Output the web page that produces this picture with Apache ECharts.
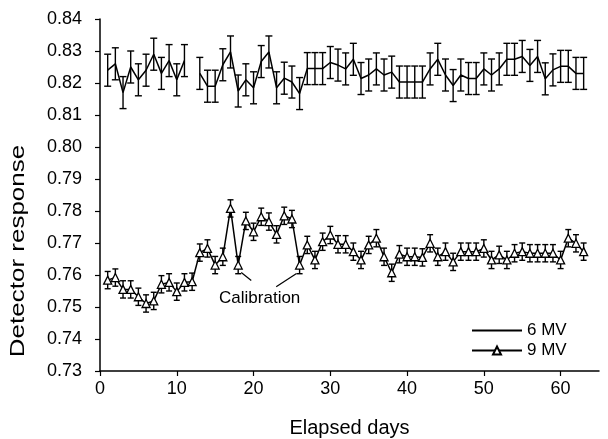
<!DOCTYPE html>
<html>
<head>
<meta charset="utf-8">
<script src="https://cdn.jsdelivr.net/npm/echarts@6/dist/echarts.min.js"></script>
<style>html,body{margin:0;padding:0;background:#fff;}#c{width:608px;height:439px;}</style>
</head>
<body>
<div id="c"></div>
<script>
// ---- data ----
const days6 = [1,2,3,4,5,6,7,8,9,10,11,
  13,14,15,16,17,18,19,20,21,22,23,24,25,26,27,28,29,30,31,32,33,34,35,36,37,38,
  39,40,41,42,43,44,45,46,47,48,49,50,51,52,53,54,55,56,57,58,59,60,61,62,63];
const resp6 = [0.824,0.826,0.817,0.825,0.821,0.824,0.829,0.823,0.827,0.821,0.827,
  0.823,0.819,0.819,0.8257,0.8297,0.8175,0.821,0.8185,0.8267,0.8297,0.8185,0.8215,0.8203,0.8167,
  0.8245,0.8245,0.8245,0.8264,0.8256,0.8244,0.8274,0.8214,0.8225,0.8244,0.8225,0.8234,
  0.8203,0.8203,0.8203,0.8203,0.8244,0.8274,0.8225,0.8192,0.8225,0.8214,0.8214,0.8244,0.8225,
  0.8244,0.8274,0.8274,0.8283,0.8255,0.8283,0.8213,0.8241,0.8252,0.8252,0.823,0.823];
const err6 = 0.005;

const days9 = [1,2,3,4,5,6,7,8,9,10,11,12,13,14,15,16,17,18,19,20,21,22,23,24,25,26,27,28,29,30,
  31,32,33,34,35,36,37,38,39,40,41,42,43,44,45,46,47,48,49,50,51,52,53,54,55,56,57,58,59,60,61,62,63];
const resp9 = [0.7584,0.7592,0.7555,0.7555,0.7532,0.7511,0.7519,0.7571,0.7577,0.7548,0.7577,0.7579,
  0.767,0.7683,0.7631,0.7657,0.7808,0.7631,0.7769,0.7735,0.7782,0.7767,0.7727,0.7785,0.7775,0.7631,
  0.7694,0.7647,0.7704,0.7725,0.7696,0.7696,0.7673,0.7647,0.7694,0.7715,0.7657,0.7607,0.7665,0.7657,
  0.7657,0.7655,0.7699,0.7657,0.7673,0.7641,0.7673,0.7673,0.7673,0.7683,0.7647,0.7663,0.7647,0.7668,
  0.7673,0.7668,0.7668,0.7668,0.7668,0.7647,0.7715,0.7699,0.7673];
const err9 = 0.0027;

const yTicks = ['0.73','0.74','0.75','0.76','0.77','0.78','0.79','0.80','0.81','0.82','0.83','0.84'];
const xTicks = ['0','10','20','30','40','50','60'];
const seriesNames = ['6 MV','9 MV'];
const xTitle = 'Elapsed days';
const yTitle = 'Detector response';
const annotText = 'Calibration';
const annotAnchor = [20.8, 0.7528];
const annotLines = [[[18.4,0.7608],[19.7,0.7583]], [[22.95,0.7563],[25.6,0.7605]]];

// ---- build ----
function lineData(days, vals) {
  const out = [];
  for (let i = 0; i < days.length; i++) {
    if (i > 0 && days[i] - days[i-1] > 1) out.push([days[i-1] + 1, '-']);
    out.push([days[i], vals[i]]);
  }
  return out;
}
function errData(days, vals, e) { return days.map((d, i) => [d, vals[i] - e, vals[i] + e]); }
function errRender(capW, lw) {
  return function (params, api) {
    const x = api.value(0);
    const a = api.coord([x, api.value(1)]);
    const b = api.coord([x, api.value(2)]);
    const st = { stroke: '#000', lineWidth: lw };
    return { type: 'group', children: [
      { type: 'line', shape: { x1: a[0], y1: a[1], x2: b[0], y2: b[1] }, style: st },
      { type: 'line', shape: { x1: a[0]-capW, y1: a[1], x2: a[0]+capW, y2: a[1] }, style: st },
      { type: 'line', shape: { x1: b[0]-capW, y1: b[1], x2: b[0]+capW, y2: b[1] }, style: st }
    ]};
  };
}
const FONT = '"Liberation Sans", Arial, sans-serif';
const chart = echarts.init(document.getElementById('c'), null, { renderer: 'canvas' });
chart.setOption({
  backgroundColor: '#fff',
  animation: false,
  grid: { left: 100, right: 9, top: 19, bottom: 68, containLabel: false, outerBoundsMode: 'none' },
  legend: {
    orient: 'vertical', left: 466, top: 317, itemGap: 3, itemWidth: 50, itemHeight: 10,
    textStyle: { fontFamily: FONT, fontSize: 17, color: '#000' },
    data: [
      { name: seriesNames[0], itemStyle: { opacity: 0 } },
      { name: seriesNames[1] }
    ]
  },
  xAxis: {
    type: 'value', min: 0, max: 65, interval: 10,
    name: xTitle, nameLocation: 'middle', nameGap: 47,
    nameTextStyle: { fontFamily: FONT, fontSize: 20, color: '#000' },
    axisLine: { lineStyle: { color: '#000', width: 1.5 } },
    axisTick: { length: 5, lineStyle: { color: '#000', width: 1.2 } },
    axisLabel: { margin: 9, fontFamily: FONT, fontSize: 18, color: '#000', showMaxLabel: false,
      formatter: v => xTicks.includes(String(v)) ? String(v) : '' },
    splitLine: { show: false }
  },
  yAxis: {
    type: 'value', min: 0.73, max: 0.84, interval: 0.01,
    axisLine: { show: true, lineStyle: { color: '#000', width: 1.5 } },
    axisTick: { show: true, length: 5, lineStyle: { color: '#000', width: 1.2 } },
    axisLabel: { margin: 18, fontFamily: FONT, fontSize: 18, color: '#000',
      formatter: v => yTicks[Math.round((v - 0.73) / 0.01)] },
    splitLine: { show: false }
  },
  graphic: [{
    type: 'text', x: 18, y: 251, rotation: Math.PI / 2, scaleX: 1.3,
    style: { text: yTitle, fontFamily: FONT, fontSize: 20, fill: '#000', align: 'center', verticalAlign: 'middle' }
  }],
  series: [
    { type: 'custom', name: 'err6', renderItem: errRender(3.5, 1.4), data: errData(days6, resp6, err6), z: 2, silent: true },
    { type: 'custom', name: 'err9', renderItem: errRender(3, 1.4), data: errData(days9, resp9, err9), z: 2, silent: true },
    { type: 'line', name: seriesNames[0], data: lineData(days6, resp6), showSymbol: false, symbol: 'none',
      lineStyle: { color: '#000', width: 1.5 }, itemStyle: { color: '#000' }, connectNulls: false, z: 3 },
    { type: 'line', name: seriesNames[1], data: lineData(days9, resp9), symbol: 'triangle', symbolSize: 8,
      lineStyle: { color: '#000', width: 1.5 }, itemStyle: { color: '#fff', borderColor: '#000', borderWidth: 1.3 }, z: 4,
      markLine: { silent: true, symbol: 'none', label: { show: false },
        lineStyle: { color: '#000', width: 1.2, type: 'solid' },
        data: annotLines.map(l => [{ coord: l[0] }, { coord: l[1] }]) }
    }
  ]
});
const p = chart.convertToPixel({ gridIndex: 0 }, annotAnchor);
chart.setOption({ graphic: [{}, { type: 'text', x: p[0], y: p[1],
  style: { text: annotText, fontFamily: FONT, fontSize: 17, fill: '#000', align: 'center', verticalAlign: 'middle' } }] });
</script>
</body>
</html>
